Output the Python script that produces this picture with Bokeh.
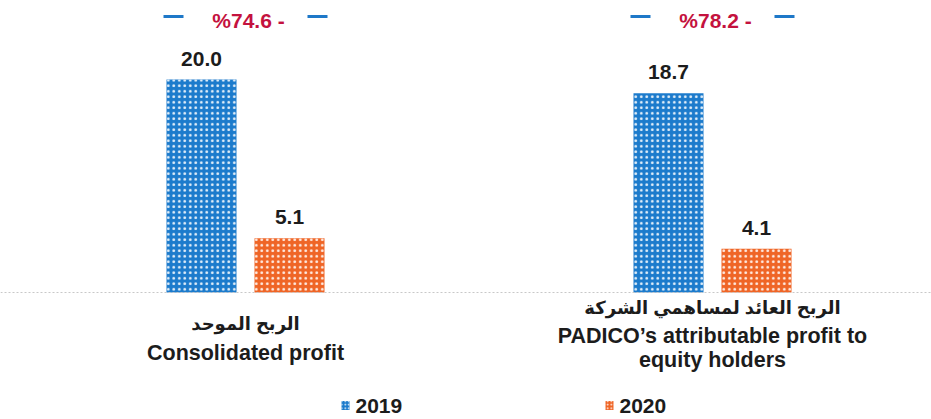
from bokeh.plotting import figure
from bokeh.models import Range1d, Span, ColumnDataSource
from bokeh.embed import file_html
from bokeh.resources import INLINE
from bokeh.core.properties import value

# ---- data ----
categories_ar = ["الربح الموحد", "الربح العائد لمساهمي الشركة"]
categories_en = [["Consolidated profit"], ["PADICO\u2019s attributable profit to", "equity holders"]]
years = ["2019", "2020"]
values_2019 = [20.0, 18.7]
values_2020 = [5.1, 4.1]
changes = ["%74.6 -", "%78.2 -"]

# ---- layout ----
W, H = 931, 419
BASE = 292          # baseline pixel row
PX = 10.65          # pixels per unit
GROUP0, GSTEP = 245, 467
BAR_OFF, BAR_W = 44, 70
BLUE, ORANGE = "#1c7bcc", "#ef6526"
RED = "#c4123e"
INK = "#1c1c1c"
FONT = value("Liberation Sans, DejaVu Sans, sans-serif")

def ydat(py):
    return (BASE - py) / PX

p = figure(width=W, height=H, output_backend="svg", toolbar_location=None,
           x_range=Range1d(0, W), y_range=Range1d(ydat(H), ydat(0)),
           min_border=0, outline_line_color=None)
p.xaxis.visible = False
p.yaxis.visible = False
p.xgrid.visible = False
p.ygrid.visible = False
p.background_fill_color = "white"
p.border_fill_color = "white"

centers = [GROUP0 + i * GSTEP for i in range(len(values_2019))]

p.add_layout(Span(location=0, dimension="width", line_color="#c8c8c8",
                  line_width=1, line_dash="2 2"))

for vals, off, col in [(values_2019, -BAR_OFF, BLUE), (values_2020, BAR_OFF, ORANGE)]:
    src = ColumnDataSource(dict(x=[c + off for c in centers], top=vals,
                                lab=["%.1f" % v for v in vals],
                                ly=[v + 21 / PX for v in vals]))
    p.vbar(x="x", top="top", bottom=0, width=BAR_W, source=src,
           fill_color=col, line_color=None,
           hatch_pattern="dot", hatch_color="white", hatch_scale=5.5, hatch_weight=2.5,
           hatch_alpha=0.9)
    p.text(x="x", y="ly", text="lab", source=src, text_align="center",
           text_baseline="middle", text_font=FONT, text_font_style="bold",
           text_font_size="21px", text_color=INK)

# change annotations
p.text(x=[c + 3 for c in centers], y=[ydat(20)] * len(centers), text=changes,
       text_align="center", text_baseline="middle", text_font=FONT,
       text_font_style="bold", text_font_size="21px", text_color=RED)
dx0, dx1 = [], []
for c in centers:
    for side in (-1, 1):
        dx0.append(c + side * 72 - 10)
        dx1.append(c + side * 72 + 10)
p.segment(x0=dx0, x1=dx1, y0=[ydat(16)] * len(dx0), y1=[ydat(16)] * len(dx0),
          line_color="#1e78c8", line_width=3)

# category labels
ar_rows = [323, 307]
en_rows = [[352], [335, 359]]
for i, c in enumerate(centers):
    p.text(x=[c], y=[ydat(ar_rows[i])], text=[categories_ar[i]], text_align="center",
           text_baseline="middle", text_font=FONT, text_font_style="bold",
           text_font_size="18px", text_color=INK)
    p.text(x=[c] * len(en_rows[i]), y=[ydat(r) for r in en_rows[i]], text=categories_en[i],
           text_align="center", text_baseline="middle", text_font=FONT,
           text_font_style="bold", text_font_size="21.5px", text_color=INK)

# legend
leg_x = [345, 609]
leg_y = ydat(405)
p.rect(x=leg_x, y=[leg_y] * 2, width=8, height=9, width_units="screen",
       height_units="screen", fill_color=[BLUE, ORANGE], line_color=None,
       hatch_pattern="dot", hatch_color="white", hatch_scale=3.5, hatch_weight=1.5)
p.text(x=[x + 10 for x in leg_x], y=[leg_y] * 2, text=years, text_align="left",
       text_baseline="middle", text_font=FONT, text_font_style="bold",
       text_font_size="21px", text_color=INK)

open("out.html", "w").write(file_html(p, INLINE))
